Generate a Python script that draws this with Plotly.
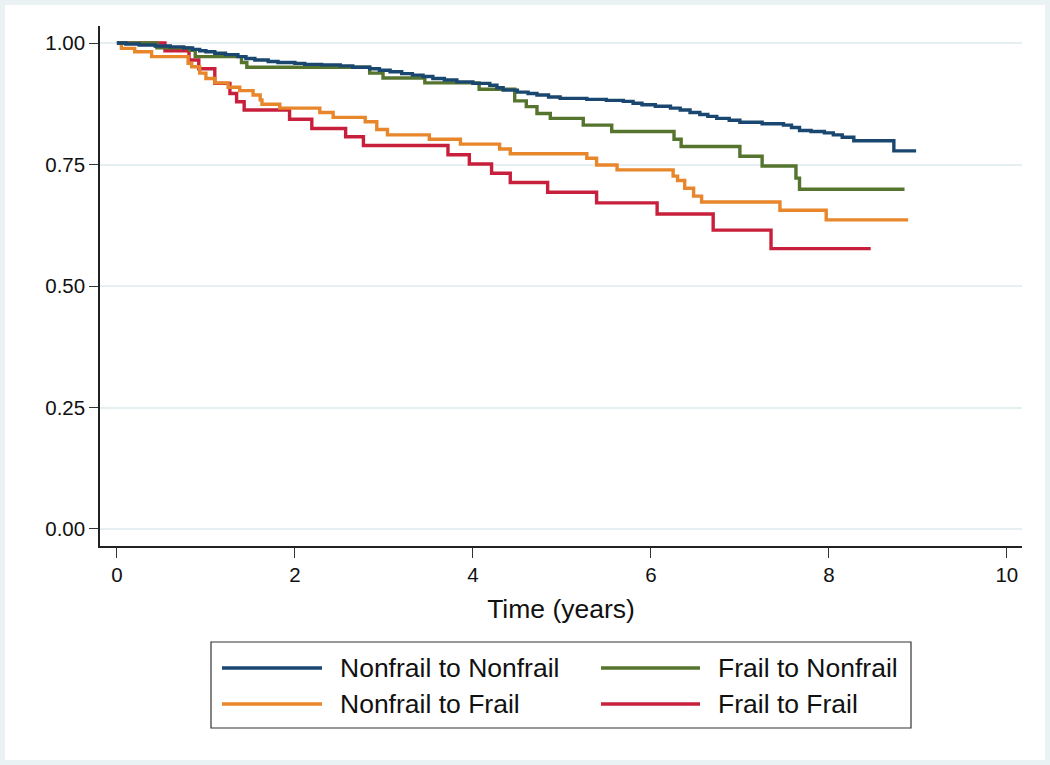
import plotly.graph_objects as go

# ---- data ----
nn_time = [0, 0.10, 0.25, 0.43, 0.60, 0.75, 0.85, 0.93, 1.00, 1.10, 1.22, 1.36, 1.45, 1.55, 1.70,
           1.81, 2.00, 2.11, 2.30, 2.51, 2.65, 2.84, 2.95, 3.07, 3.20, 3.32, 3.44, 3.55, 3.68,
           3.82, 4.00, 4.19, 4.27, 4.34, 4.50, 4.62, 4.72, 4.85, 4.98, 5.28, 5.50, 5.69, 5.80,
           5.90, 6.05, 6.22, 6.33, 6.44, 6.55, 6.64, 6.74, 6.88, 7.00, 7.25, 7.49, 7.58, 7.67,
           7.80, 7.95, 8.05, 8.15, 8.28, 8.73, 8.98]
nn_surv = [1.0, 0.998, 0.996, 0.994, 0.992, 0.990, 0.987, 0.984, 0.982, 0.979, 0.976, 0.972, 0.968,
           0.965, 0.962, 0.960, 0.958, 0.956, 0.955, 0.953, 0.950, 0.947, 0.944, 0.941, 0.937,
           0.934, 0.931, 0.927, 0.924, 0.920, 0.917, 0.913, 0.908, 0.903, 0.899, 0.896, 0.893,
           0.889, 0.886, 0.884, 0.882, 0.880, 0.876, 0.873, 0.870, 0.866, 0.862, 0.857, 0.853,
           0.849, 0.845, 0.841, 0.837, 0.834, 0.831, 0.826, 0.820, 0.818, 0.815, 0.811, 0.806,
           0.799, 0.778, 0.778]

fn_time = [0, 0.45, 0.82, 0.88, 1.40, 1.46, 2.84, 2.99, 3.46, 4.07, 4.47, 4.60, 4.72, 4.87, 5.24,
           5.56, 6.26, 6.34, 7.00, 7.25, 7.63, 7.67, 8.85]
fn_surv = [1.0, 0.990, 0.985, 0.972, 0.960, 0.950, 0.938, 0.928, 0.918, 0.905, 0.881, 0.869, 0.855,
           0.845, 0.831, 0.818, 0.802, 0.787, 0.767, 0.747, 0.722, 0.699, 0.699]

nf_time = [0, 0.05, 0.20, 0.39, 0.80, 0.84, 0.93, 1.00, 1.10, 1.25, 1.38, 1.53, 1.61, 1.63, 1.83,
           2.28, 2.43, 2.79, 2.92, 3.04, 3.51, 3.86, 4.30, 4.42, 5.28, 5.39, 5.62, 6.25, 6.30,
           6.38, 6.48, 6.57, 7.45, 7.97, 8.89]
nf_surv = [1.0, 0.989, 0.982, 0.972, 0.958, 0.951, 0.938, 0.927, 0.918, 0.909, 0.902, 0.893, 0.883,
           0.874, 0.866, 0.857, 0.847, 0.838, 0.822, 0.811, 0.802, 0.792, 0.782, 0.772, 0.763,
           0.749, 0.739, 0.726, 0.717, 0.701, 0.685, 0.673, 0.656, 0.636, 0.636]

ff_time = [0, 0.54, 0.81, 0.92, 1.10, 1.27, 1.345, 1.43, 1.94, 2.19, 2.57, 2.77, 3.72, 3.96, 4.21,
           4.42, 4.84, 5.39, 6.07, 6.70, 7.35, 8.47]
ff_surv = [1.0, 0.984, 0.965, 0.947, 0.917, 0.896, 0.879, 0.862, 0.843, 0.824, 0.807, 0.789, 0.770,
           0.751, 0.732, 0.713, 0.693, 0.671, 0.648, 0.615, 0.577, 0.577]

series_names = ["Nonfrail to Nonfrail", "Frail to Nonfrail", "Nonfrail to Frail", "Frail to Frail"]
series_colors = ["#1a476f", "#55752f", "#e8862b", "#c8203c"]
series_data = [(nn_time, nn_surv), (fn_time, fn_surv), (nf_time, nf_surv), (ff_time, ff_surv)]

x_ticks = [0, 2, 4, 6, 8, 10]
y_ticks = [0, 0.25, 0.5, 0.75, 1.0]
y_tick_labels = ["0.00", "0.25", "0.50", "0.75", "1.00"]

# ---- figure ----
W, H = 1050, 765
L, R, T, B = 100, 28, 26, 219
PW, PH = W - L - R, H - T - B

def px(x):
    return (x - L) / PW

def py(y):
    return (H - B - y) / PH

FONT = "Liberation Sans, Arial, Helvetica, sans-serif"

fig = go.Figure()
for idx in [3, 2, 1, 0]:
    t, s = series_data[idx]
    fig.add_trace(go.Scatter(x=t, y=s, mode="lines", line=dict(color=series_colors[idx], width=3.4, shape="hv"),
                             name=series_names[idx], showlegend=False, hoverinfo="skip"))

shapes = []
# white inner region leaving a thin light border
shapes.append(dict(type="rect", xref="paper", yref="paper", x0=px(5), x1=px(1045), y0=py(760), y1=py(5),
                   fillcolor="white", line=dict(width=0), layer="below"))
# legend box
shapes.append(dict(type="rect", xref="paper", yref="paper", x0=px(211), x1=px(911), y0=py(728), y1=py(642),
                   line=dict(color="#333333", width=1.2), fillcolor="rgba(0,0,0,0)"))
annotations = []
legend_pos = [(222, 322, 338, 668), (601, 700, 716, 668), (222, 322, 338, 704), (601, 700, 716, 704)]
for i, (lx0, lx1, tx, ly) in enumerate(legend_pos):
    shapes.append(dict(type="line", xref="paper", yref="paper", x0=px(lx0), x1=px(lx1), y0=py(ly), y1=py(ly),
                       line=dict(color=series_colors[i], width=3.4)))
    annotations.append(dict(xref="paper", yref="paper", x=px(tx), y=py(ly), text=series_names[i],
                            showarrow=False, xanchor="left", yanchor="middle",
                            font=dict(size=26.5, color="#111111", family=FONT)))

fig.update_layout(
    width=W, height=H,
    margin=dict(l=L, r=R, t=T, b=B),
    paper_bgcolor="#eaf2f3",
    plot_bgcolor="white",
    font=dict(family=FONT, color="#111111"),
    shapes=shapes,
    annotations=annotations,
    showlegend=False,
)
fig.update_xaxes(
    range=[-0.19, 10.17], tickvals=x_ticks, ticks="outside", ticklen=10, tickwidth=1.3, tickcolor="#333333",
    showline=True, linecolor="#222222", linewidth=1.5, showgrid=False, zeroline=False,
    tickfont=dict(size=20.5), title=dict(text="Time (years)", font=dict(size=26.5), standoff=14),
)
fig.update_yaxes(
    range=[-0.035, 1.035], tickvals=y_ticks, ticktext=y_tick_labels, ticks="outside", ticklen=9,
    tickwidth=1.3, tickcolor="#333333",
    showline=True, linecolor="#222222", linewidth=1.5, showgrid=True, gridcolor="#e6eff1", gridwidth=1.5,
    zeroline=False, tickfont=dict(size=20.5),
)

fig.write_html("out.html", config={"displayModeBar": False},
               post_script="document.body.style.margin='0';document.body.style.padding='0';")
